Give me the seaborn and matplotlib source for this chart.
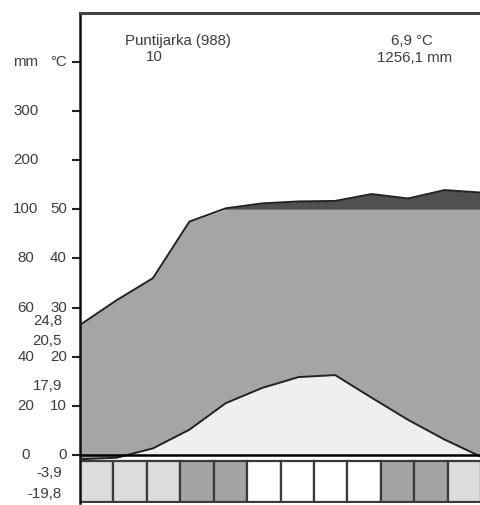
import numpy as np
import pandas as pd
import matplotlib
matplotlib.use("Agg")
import matplotlib.pyplot as plt
import seaborn as sns

# ---- data ----
months = ["Jan", "Feb", "Mar", "Apr", "May", "Jun", "Jul", "Aug", "Sep", "Oct", "Nov", "Dec"]
temperature = [-0.8, -0.5, 1.4, 5.2, 10.6, 13.7, 15.9, 16.3, 11.7, 7.2, 3.2, -0.3]
precipitation = [53, 63, 72, 95, 102, 112, 116, 117, 131, 122, 139, 134]
frost_code = ["prob", "prob", "prob", "sure", "sure", "none", "none", "none", "none", "sure", "sure", "prob"]
station = "Puntijarka (988)"
years = "10"
mean_temp_label = "6,9 °C"
annual_prec_label = "1256,1 mm"
tick_pos = [80, 70, 60, 50, 40, 30, 20, 10, 0]
tick_mm = ["mm", "300", "200", "100", "80", "60", "40", "20", "0"]
tick_c = ["°C", "", "", "50", "40", "30", "20", "10", "0"]
side_labels = ["24,8", "20,5", "17,9", "-3,9", "-19,8"]
side_pos = [27.2, 23.3, 14.0, -3.7, -7.9]

sns.set_theme(style="white")
plt.rcParams["font.family"] = ["Liberation Sans", "DejaVu Sans"]

W, H = 481, 505
fig = plt.figure(figsize=(W / 100, H / 100), dpi=100)
ax = fig.add_axes([80 / W, (H - 503) / H, (W - 80) / W, (503 - 13) / H])

x = np.linspace(0, 11, 12)
t = np.array(temperature, dtype=float)
p = np.array(precipitation, dtype=float)
p_scaled = np.where(p <= 100, p / 2.0, 50 + (p - 100) / 10.0)

df = pd.DataFrame({"x": x, "temp": t, "prec": p_scaled})

fill_grey = "#a5a5a5"
dark = "#505050"
light = "#efefef"

# humid area
ax.fill_between(x, t, np.minimum(p_scaled, 50), color=fill_grey, lw=0, zorder=1)
# very wet part above 100 mm
ax.fill_between(x, 50, p_scaled, where=p_scaled >= 50, interpolate=True, color=dark, lw=0, zorder=1)
# warm area under temperature curve
ax.fill_between(x, 0, t, where=t >= 0, interpolate=True, color=light, lw=0, zorder=1)

sns.lineplot(data=df, x="x", y="prec", color="#222222", lw=1.4, ax=ax, zorder=3)
sns.lineplot(data=df, x="x", y="temp", color="#222222", lw=1.4, ax=ax, zorder=3)
ax.axhline(0, color="black", lw=1.8, zorder=4)

# frost boxes
box_colors = {"prob": "#dcdcdc", "sure": "#a4a4a4", "none": "#ffffff"}
bw = 11 / 12
ax.bar([(i + 0.5) * bw for i in range(12)], [8.25] * 12, bottom=-9.45, width=bw,
       color=[box_colors[c] for c in frost_code], edgecolor="#3a3a3a", linewidth=1.6, zorder=2)

ax.set_xlim(0, 11)
ax.set_ylim(-9.7, 89.9)
ax.set_xticks([])
ax.set_yticks(tick_pos)
ax.set_yticklabels([])
ax.tick_params(axis="y", direction="out", length=6, width=1.5, color="#222222", left=True)
for s in ["right", "bottom"]:
    ax.spines[s].set_visible(False)
ax.spines["left"].set_color("#111111")
ax.spines["left"].set_linewidth(1.8)
ax.spines["top"].set_color("#444444")
ax.spines["top"].set_linewidth(2.2)

tr = ax.get_yaxis_transform()
txt = "#3c3c3c"
fs = 10.8
def xa(px):
    return (px - 80) / (W - 80)

for pos, lm, lc in zip(tick_pos, tick_mm, tick_c):
    ax.text(xa(26), pos, lm, transform=tr, ha="center", va="center", fontsize=fs, color=txt)
    if lc:
        ax.text(xa(67), pos, lc, transform=tr, ha="right", va="center", fontsize=fs, color=txt)
for lab, pos in zip(side_labels, side_pos):
    ax.text(xa(62), pos, lab, transform=tr, ha="right", va="center", fontsize=fs, color=txt)

fig.text(178 / W, 1 - 41 / H, station, ha="center", va="center", fontsize=fs, color=txt)
fig.text(154 / W, 1 - 57 / H, years, ha="center", va="center", fontsize=fs, color=txt)
fig.text(412 / W, 1 - 41 / H, mean_temp_label, ha="center", va="center", fontsize=fs, color=txt)
fig.text(415 / W, 1 - 58 / H, annual_prec_label, ha="center", va="center", fontsize=fs, color=txt)

ax.set_xlabel("")
ax.set_ylabel("")
fig.savefig("out.png", dpi=100)
